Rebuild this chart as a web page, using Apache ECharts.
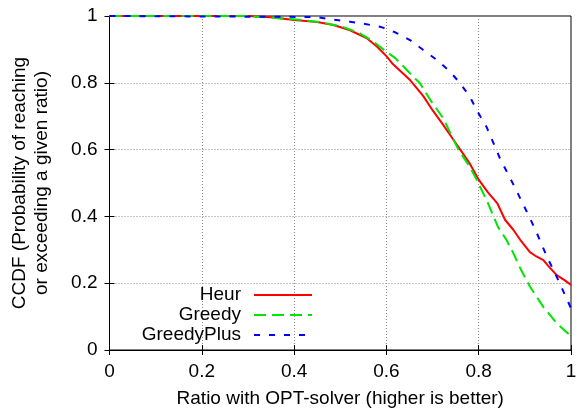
<!DOCTYPE html>
<html>
<head>
<meta charset="utf-8">
<script src="https://cdn.jsdelivr.net/npm/echarts@6/dist/echarts.min.js"></script>
<style>html,body{margin:0;padding:0;background:#fff;}#c{width:581px;height:413px;}</style>
</head>
<body>
<div id="c"></div>
<script>
var xTicks = [0, 0.2, 0.4, 0.6, 0.8, 1];
var yTicks = [0, 0.2, 0.4, 0.6, 0.8, 1];
var seriesNames = ['Heur', 'Greedy', 'GreedyPlus'];
var heur = [[0,1],[0.3,1],[0.35,0.996],[0.4,0.988],[0.45,0.982],[0.485,0.973],[0.52,0.958],[0.557,0.934],[0.58,0.908],[0.6,0.88],[0.614,0.856],[0.65,0.81],[0.68,0.76],[0.7,0.718],[0.72,0.68],[0.74,0.64],[0.76,0.6],[0.78,0.56],[0.8,0.51],[0.82,0.472],[0.84,0.44],[0.857,0.39],[0.875,0.36],[0.89,0.33],[0.911,0.293],[0.925,0.28],[0.94,0.269],[0.955,0.245],[0.969,0.224],[0.985,0.21],[1,0.195]];
var greedy = [[0,1],[0.3,1],[0.4,0.99],[0.45,0.983],[0.5,0.97],[0.54,0.95],[0.57,0.925],[0.6,0.893],[0.62,0.873],[0.65,0.83],[0.673,0.798],[0.695,0.749],[0.723,0.694],[0.756,0.6],[0.78,0.55],[0.796,0.509],[0.82,0.44],[0.842,0.368],[0.86,0.33],[0.875,0.29],[0.89,0.245],[0.911,0.19],[0.94,0.129],[0.969,0.08],[1,0.042]];
var greedyPlus = [[0,1],[0.45,0.997],[0.478,0.99],[0.521,0.983],[0.55,0.977],[0.586,0.968],[0.6,0.962],[0.622,0.949],[0.651,0.928],[0.68,0.898],[0.709,0.869],[0.738,0.833],[0.759,0.8],[0.781,0.758],[0.799,0.71],[0.817,0.668],[0.846,0.574],[0.879,0.485],[0.911,0.395],[0.926,0.35],[0.948,0.279],[0.969,0.219],[0.987,0.165],[1,0.125]];

var FONT = 'Liberation Sans';
var FS = 19;
var chart = echarts.init(document.getElementById('c'));
function mkLegend(name, top) {
  return {
    data: [name], right: 268, top: top, orient: 'vertical', align: 'right',
    padding: 0, itemWidth: 58, itemHeight: 14, selectedMode: false,
    itemStyle: {opacity: 0},
    textStyle: {fontFamily: FONT, fontSize: FS, color: '#000', padding: [0, 8, 0, 0]}
  };
}
var hiddenAxis = {show: true, axisLabel: {show: false}, splitLine: {show: false}, axisLine: {show: false},
  axisTick: {show: true, inside: true, length: 5, lineStyle: {color: '#000'}}};
chart.setOption({
  animation: false,
  backgroundColor: '#fff',
  grid: {left: 109.5, right: 10, top: 16, bottom: 63, show: true, borderColor: '#000', borderWidth: 1, backgroundColor: 'transparent'},
  legend: [mkLegend(seriesNames[0], 285.5), mkLegend(seriesNames[1], 305.5), mkLegend(seriesNames[2], 325.5)],
  xAxis: [{
    type: 'value', min: xTicks[0], max: xTicks[xTicks.length - 1], interval: 0.2,
    name: 'Ratio with OPT-solver (higher is better)', nameLocation: 'middle', nameGap: 39,
    nameTextStyle: {fontFamily: FONT, fontSize: FS, color: '#000'},
    axisLine: {show: true, lineStyle: {color: '#000'}},
    axisTick: {show: true, inside: true, length: 5, lineStyle: {color: '#000'}},
    axisLabel: {fontFamily: FONT, fontSize: FS, color: '#000', margin: 12},
    splitLine: {show: true, lineStyle: {color: '#888', type: [1, 2], width: 1}}
  }, Object.assign({type: 'value', position: 'top', min: 0, max: 1, interval: 0.2}, hiddenAxis)],
  yAxis: [{
    type: 'value', min: yTicks[0], max: yTicks[yTicks.length - 1], interval: 0.2,
    name: 'CCDF (Probability of reaching\nor exceeding a given ratio)', nameLocation: 'middle', nameGap: 57, nameRotate: 90,
    nameTextStyle: {fontFamily: FONT, fontSize: FS, color: '#000', lineHeight: 22},
    axisLine: {show: true, lineStyle: {color: '#000'}},
    axisTick: {show: true, inside: true, length: 5, lineStyle: {color: '#000'}},
    axisLabel: {fontFamily: FONT, fontSize: FS, color: '#000', margin: 12},
    splitLine: {show: true, lineStyle: {color: '#888', type: [1, 2], width: 1}}
  }, Object.assign({type: 'value', position: 'right', min: 0, max: 1, interval: 0.2}, hiddenAxis)],
  series: [
    {name: seriesNames[0], type: 'line', data: heur, symbol: 'none', lineStyle: {color: '#ff0000', width: 2}, itemStyle: {color: '#ff0000'}},
    {name: seriesNames[1], type: 'line', data: greedy, symbol: 'none', lineStyle: {color: '#00e600', width: 2, type: [12, 6]}, itemStyle: {color: '#00e600'}},
    {name: seriesNames[2], type: 'line', data: greedyPlus, symbol: 'none', lineStyle: {color: '#0000ff', width: 2, type: [6, 9]}, itemStyle: {color: '#0000ff'}}
  ]
});
</script>
</body>
</html>
